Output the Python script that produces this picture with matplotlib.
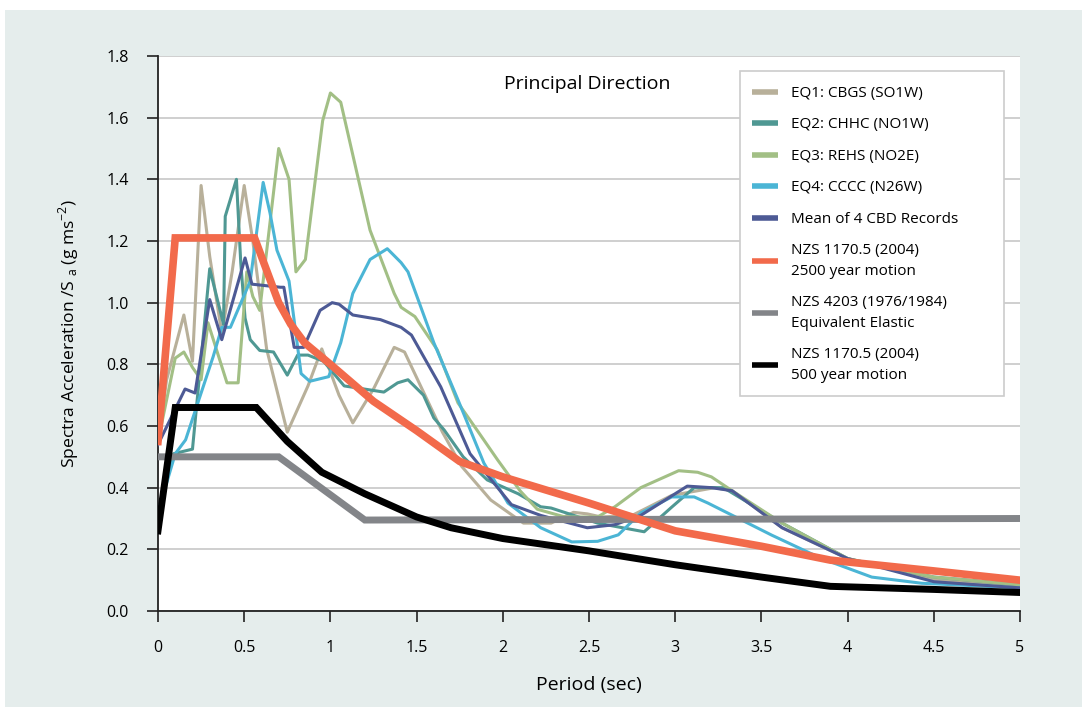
import matplotlib
matplotlib.use('Agg')
import matplotlib.pyplot as plt
from matplotlib.patches import Rectangle

plt.rcParams['font.family'] = ['Open Sans', 'DejaVu Sans']

# EQ1: CBGS (SO1W)
eq1_t = [0, 0.05, 0.15, 0.2, 0.25, 0.3, 0.37, 0.43, 0.5, 0.55, 0.63, 0.75, 0.87, 0.95, 1.05, 1.13,
         1.25, 1.37, 1.43, 1.54, 1.65, 1.76, 1.93, 2.12, 2.28, 2.41, 2.49, 2.57, 2.75, 2.98, 3.23,
         3.33, 3.62, 4.0, 4.5, 5.0]
eq1_sa = [0.55, 0.75, 0.96, 0.81, 1.38, 1.15, 0.9, 1.1, 1.38, 1.2, 0.85, 0.58, 0.73, 0.85, 0.7, 0.61,
          0.72, 0.855, 0.84, 0.71, 0.58, 0.47, 0.36, 0.285, 0.285, 0.32, 0.315, 0.305, 0.31, 0.375, 0.40,
          0.39, 0.27, 0.17, 0.1, 0.08]

# EQ2: CHHC (NO1W)
eq2_t = [0, 0.09, 0.2, 0.3, 0.38, 0.39, 0.455, 0.48, 0.505, 0.535, 0.59, 0.67, 0.75, 0.81, 0.87, 0.96,
         1.08, 1.31, 1.39, 1.45, 1.54, 1.6, 1.66, 1.77, 1.91, 2.09, 2.22, 2.28, 2.55, 2.82, 2.98, 3.11,
         3.28, 3.62, 4.0, 4.5, 5.0]
eq2_sa = [0.31, 0.51, 0.525, 1.11, 0.93, 1.28, 1.40, 1.13, 0.95, 0.88, 0.845, 0.84, 0.765, 0.83, 0.83, 0.81,
          0.73, 0.71, 0.74, 0.75, 0.70, 0.626, 0.587, 0.50, 0.425, 0.38, 0.338, 0.334, 0.285, 0.257, 0.337, 0.40,
          0.40, 0.285, 0.17, 0.11, 0.085]

# EQ3: REHS (NO2E)
eq3_t = [0, 0.1, 0.15, 0.2, 0.25, 0.29, 0.40, 0.465, 0.515, 0.55, 0.59, 0.70, 0.76, 0.80, 0.855, 0.955,
         1.0, 1.06, 1.23, 1.37, 1.41, 1.49, 1.62, 1.74, 1.85, 1.97, 2.1, 2.2, 2.36, 2.55, 2.65, 2.8,
         3.02, 3.13, 3.21, 3.33, 3.62, 4.0, 4.5, 5.0]
eq3_sa = [0.55, 0.82, 0.84, 0.79, 0.75, 0.935, 0.74, 0.74, 1.1, 1.02, 0.975, 1.50, 1.40, 1.10, 1.14, 1.59,
          1.68, 1.65, 1.235, 1.03, 0.985, 0.955, 0.847, 0.675, 0.587, 0.49, 0.39, 0.33, 0.305, 0.305, 0.338, 0.40,
          0.455, 0.45, 0.435, 0.39, 0.285, 0.17, 0.11, 0.085]

# EQ4: CCCC (N26W)
eq4_t = [0, 0.1, 0.16, 0.32, 0.37, 0.42, 0.535, 0.61, 0.65, 0.69, 0.76, 0.83, 0.88, 0.99, 1.06, 1.13,
         1.23, 1.33, 1.41, 1.45, 1.6, 1.74, 1.89, 2.03, 2.22, 2.4, 2.55, 2.67, 2.8, 2.98, 3.11, 3.19,
         3.56, 3.85, 4.14, 4.43, 5.0]
eq4_sa = [0.32, 0.51, 0.555, 0.825, 0.92, 0.92, 1.07, 1.39, 1.29, 1.17, 1.07, 0.77, 0.745, 0.76, 0.87, 1.03,
          1.14, 1.175, 1.13, 1.10, 0.87, 0.685, 0.48, 0.35, 0.27, 0.224, 0.226, 0.247, 0.318, 0.37, 0.37, 0.35,
          0.246, 0.17, 0.11, 0.09, 0.075]

# Mean of 4 CBD records
mean_t = [0, 0.157, 0.215, 0.30, 0.37, 0.505, 0.545, 0.71, 0.73, 0.79, 0.845, 0.94, 1.01, 1.05, 1.13,
          1.29, 1.41, 1.47, 1.64, 1.81, 2.05, 2.22, 2.49, 2.65, 2.8, 3.07, 3.21, 3.33, 3.62, 4.0, 4.5, 5.0]
mean_sa = [0.54, 0.72, 0.707, 1.01, 0.88, 1.145, 1.06, 1.05, 1.05, 0.855, 0.855, 0.975, 1.0, 0.995, 0.96,
           0.945, 0.92, 0.895, 0.727, 0.51, 0.345, 0.31, 0.27, 0.28, 0.31, 0.405, 0.40, 0.39, 0.27, 0.17, 0.095, 0.075]

# NZS 1170.5 (2004) 2500 year motion
nzs2500_t = [0, 0.1, 0.56, 0.7, 0.77, 0.85, 1.0, 1.25, 1.5, 1.75, 2.0, 2.5, 3.0, 3.5, 3.9, 4.5, 5.0]
nzs2500_sa = [0.55, 1.21, 1.21, 1.0, 0.93, 0.87, 0.80, 0.68, 0.585, 0.485, 0.435, 0.35, 0.26, 0.21, 0.165, 0.13, 0.10]

# NZS 4203 (1976/1984) equivalent elastic
nzs4203_t = [0, 0.7, 1.2, 5.0]
nzs4203_sa = [0.50, 0.50, 0.295, 0.30]

# NZS 1170.5 (2004) 500 year motion
nzs500_t = [0, 0.1, 0.57, 0.75, 0.95, 1.2, 1.5, 1.7, 2.0, 2.5, 3.0, 3.5, 3.9, 4.5, 5.0]
nzs500_sa = [0.26, 0.66, 0.66, 0.55, 0.45, 0.38, 0.305, 0.27, 0.235, 0.195, 0.15, 0.11, 0.08, 0.07, 0.06]

xticks = [0, 0.5, 1, 1.5, 2, 2.5, 3, 3.5, 4, 4.5, 5]
xlabels = ['0', '0.5', '1', '1.5', '2', '2.5', '3', '3.5', '4', '4.5', '5']
yticks = [0.0, 0.2, 0.4, 0.6, 0.8, 1.0, 1.2, 1.4, 1.6, 1.8]

W, H = 1088, 717
fig = plt.figure(figsize=(W / 100, H / 100), dpi=100, facecolor='white')
fig.patches.append(Rectangle((5 / W, 10 / H), 1077 / W, 697 / H, transform=fig.transFigure,
                             facecolor='#E5EDEC', edgecolor='none', zorder=-10))
ax = fig.add_axes([158 / W, 1 - 611 / H, 862 / W, 555 / H])
ax.set_facecolor('white')

ax.plot(eq1_t, eq1_sa, color='#B8B09A', lw=2.2, label='EQ1: CBGS (SO1W)', zorder=3)
ax.plot(eq2_t, eq2_sa, color='#4F9893', lw=2.2, label='EQ2: CHHC (NO1W)', zorder=3)
ax.plot(eq3_t, eq3_sa, color='#A2BF85', lw=2.2, label='EQ3: REHS (NO2E)', zorder=3)
ax.plot(eq4_t, eq4_sa, color='#4BB5D5', lw=2.2, label='EQ4: CCCC (N26W)', zorder=3)
ax.plot(mean_t, mean_sa, color='#4D5A95', lw=2.2, label='Mean of 4 CBD Records', zorder=3)
ax.plot(nzs2500_t, nzs2500_sa, color='#F26A4B', lw=5.5, label='NZS 1170.5 (2004)\n2500 year motion',
        zorder=5, solid_joinstyle='miter')
ax.plot(nzs4203_t, nzs4203_sa, color='#838589', lw=5, label='NZS 4203 (1976/1984)\nEquivalent Elastic',
        zorder=4, solid_joinstyle='miter')
ax.plot(nzs500_t, nzs500_sa, color='black', lw=5, label='NZS 1170.5 (2004)\n500 year motion',
        zorder=4, solid_joinstyle='miter')

ax.set_xlim(0, 5)
ax.set_ylim(0, 1.8)
ax.set_xticks(xticks)
ax.set_xticklabels(xlabels)
ax.set_yticks(yticks)
ax.set_yticklabels(['%.1f' % v for v in yticks])
ax.tick_params(labelsize=11.5, length=8, width=1.2, color='#222222')
ax.tick_params(axis='y', pad=13)
ax.tick_params(axis='x', pad=13)
ax.yaxis.grid(True, color='#CCCCCC', lw=1.3)
ax.set_axisbelow(True)
for s in ['top', 'right']:
    ax.spines[s].set_visible(False)
for s in ['left', 'bottom']:
    ax.spines[s].set_color('#222222')
    ax.spines[s].set_linewidth(1.3)

ax.set_xlabel('Period (sec)', fontsize=14, labelpad=14)
ax.set_ylabel(r'Spectra Acceleration /S $_{\mathregular{a}}$ (g ms$^{\mathregular{-2}}$)',
              fontsize=12.6, labelpad=18)

ax.text(2.49, 1.71, 'Principal Direction', fontsize=14, ha='center', va='center')

# legend frame drawn separately (wide right padding)
ax.add_patch(Rectangle((0.675, 0.387), 0.306, 0.586, transform=ax.transAxes, facecolor='white',
                       edgecolor='#CCCCCC', lw=1.2, zorder=6))
leg = ax.legend(loc='upper left', bbox_to_anchor=(0.689, 0.946), fontsize=11, frameon=False,
                handlelength=1.7, labelspacing=1.08, borderpad=0, borderaxespad=0, handletextpad=0.85)
leg.set_zorder(7)
for line in leg.get_lines():
    line.set_linewidth(4)
    line.set_solid_capstyle('butt')
for txt in leg.get_texts():
    txt.set_linespacing(1.5)

fig.savefig('out.png', dpi=100, facecolor='white')
